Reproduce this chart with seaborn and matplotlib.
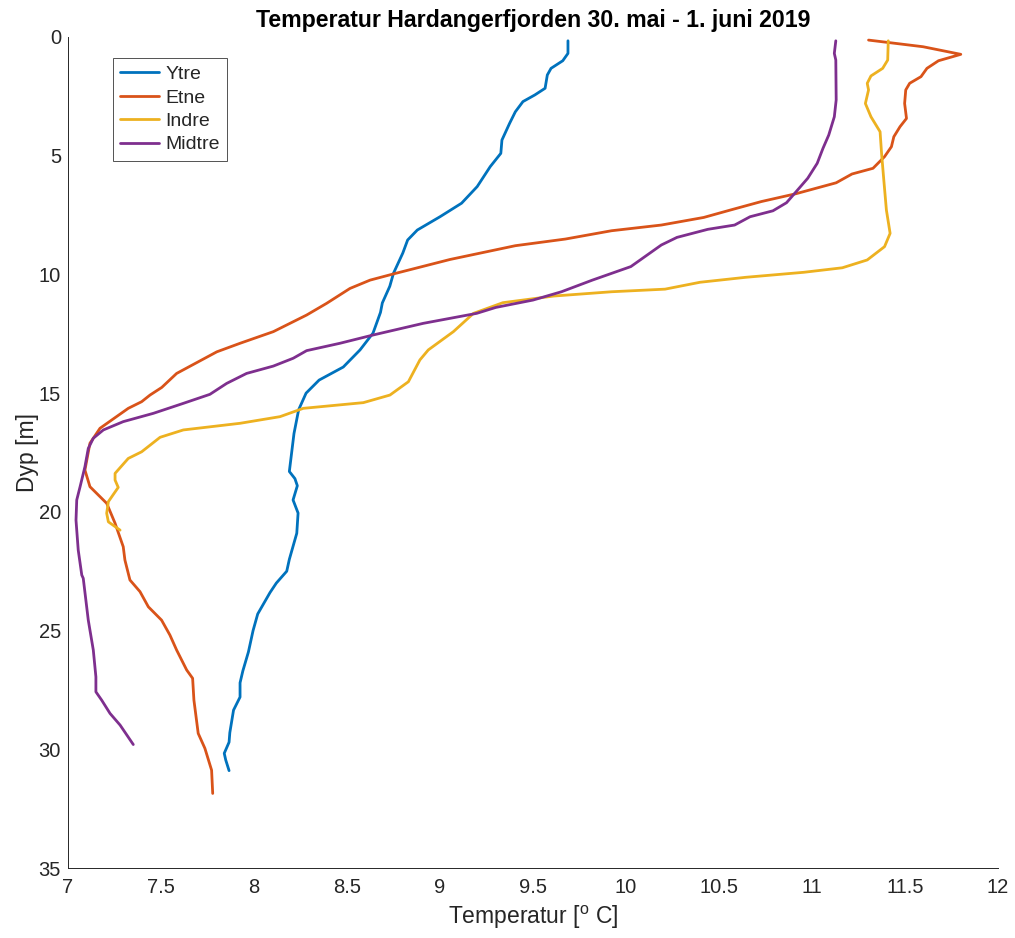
import matplotlib
matplotlib.use("Agg")
import matplotlib.pyplot as plt
import seaborn as sns
import pandas as pd

# ---- data ----
ytre_depth = [0.16, 0.69, 1.0, 1.32, 1.6, 2.16, 2.44, 2.72, 3.15, 3.64, 4.34, 4.9, 5.46, 6.3, 7.0,
              7.57, 8.13, 8.55, 9.1, 9.95, 10.5, 11.2, 11.6, 12.47, 13.18, 13.9, 14.45, 15.0, 15.7,
              16.7, 18.3, 18.6, 18.9, 19.5, 20.05, 20.9, 22.0, 22.5, 23.0, 23.4, 24.3, 25.0, 25.9,
              26.7, 27.2, 27.8, 28.35, 29.3, 29.7, 30.17, 30.45, 30.9]
ytre_temp = [9.688, 9.688, 9.66, 9.597, 9.577, 9.565, 9.51, 9.446, 9.405, 9.374, 9.333, 9.327, 9.27,
             9.2, 9.116, 9.0, 8.878, 8.826, 8.80, 8.75, 8.73, 8.69, 8.68, 8.64, 8.57, 8.48, 8.35,
             8.28, 8.24, 8.215, 8.19, 8.22, 8.233, 8.21, 8.237, 8.23, 8.19, 8.176, 8.12, 8.086,
             8.02, 7.995, 7.97, 7.94, 7.925, 7.925, 7.89, 7.87, 7.866, 7.84, 7.848, 7.866]

etne_depth = [0.13, 0.41, 0.73, 1.0, 1.32, 1.67, 1.95, 2.23, 2.8, 3.43, 3.78, 4.2, 4.62, 5.04, 5.53,
              5.77, 6.14, 6.6, 6.93, 7.29, 7.6, 7.92, 8.16, 8.51, 8.79, 9.37, 9.98, 10.24, 10.59,
              11.22, 11.71, 12.41, 12.9, 13.26, 14.17, 14.76, 15.08, 15.36, 15.64, 16.48, 17.11,
              18.24, 18.94, 19.64, 20.48, 21.47, 22.03, 22.87, 23.36, 24.0, 24.56, 25.19, 25.82,
              26.66, 27.01, 27.93, 29.33, 29.96, 30.88, 31.86]
etne_temp = [11.304, 11.597, 11.80, 11.68, 11.618, 11.586, 11.525, 11.504, 11.498, 11.508, 11.473,
             11.44, 11.427, 11.39, 11.328, 11.215, 11.13, 10.914, 10.728, 10.56, 10.418, 10.19,
             9.922, 9.674, 9.405, 9.054, 8.749, 8.624, 8.516, 8.39, 8.283, 8.104, 7.925, 7.80,
             7.584, 7.504, 7.441, 7.396, 7.324, 7.172, 7.118, 7.091, 7.118, 7.208, 7.253, 7.297,
             7.306, 7.333, 7.387, 7.432, 7.503, 7.548, 7.584, 7.638, 7.67, 7.677, 7.70, 7.736,
             7.772, 7.778]

indre_depth = [0.16, 0.97, 1.32, 1.64, 1.95, 2.23, 2.8, 3.36, 3.99, 4.9, 6.02, 7.29, 8.27, 8.83,
               9.39, 9.72, 9.91, 10.12, 10.33, 10.62, 10.73, 10.91, 11.19, 11.64, 12.41, 13.18,
               13.6, 14.52, 15.08, 15.4, 15.64, 15.99, 16.27, 16.55, 16.86, 17.47, 17.75, 18.38,
               18.66, 18.97, 19.57, 20.06, 20.42, 20.77]
indre_temp = [11.41, 11.407, 11.38, 11.317, 11.297, 11.304, 11.287, 11.317, 11.366, 11.374, 11.386,
              11.40, 11.42, 11.39, 11.297, 11.163, 10.956, 10.645, 10.398, 10.21, 9.922, 9.612,
              9.338, 9.18, 9.072, 8.937, 8.892, 8.83, 8.731, 8.588, 8.265, 8.14, 7.925, 7.62,
              7.495, 7.396, 7.324, 7.253, 7.253, 7.27, 7.217, 7.208, 7.217, 7.28]

midtre_depth = [0.16, 0.69, 0.97, 2.65, 3.36, 4.13, 4.69, 5.32, 5.95, 6.52, 6.98, 7.32, 7.57, 7.92,
                8.1, 8.44, 8.76, 9.67, 10.24, 10.73, 11.08, 11.39, 11.64, 12.06, 12.55, 12.9, 13.21,
                13.53, 13.86, 14.17, 14.59, 15.05, 15.43, 15.85, 16.2, 16.55, 16.9, 17.33, 18.1,
                18.94, 19.5, 20.35, 21.61, 22.66, 22.8, 24.56, 25.82, 26.95, 27.58, 27.93, 28.49,
                28.98, 29.8]
midtre_temp = [11.128, 11.12, 11.128, 11.13, 11.12, 11.09, 11.059, 11.028, 10.977, 10.914, 10.863,
               10.79, 10.667, 10.584, 10.44, 10.274, 10.19, 10.026, 9.819, 9.653, 9.5, 9.3, 9.197,
               8.91, 8.641, 8.462, 8.283, 8.211, 8.104, 7.96, 7.853, 7.763, 7.62, 7.459, 7.297,
               7.19, 7.136, 7.109, 7.091, 7.065, 7.047, 7.043, 7.055, 7.074, 7.082, 7.109, 7.136,
               7.15, 7.15, 7.181, 7.226, 7.28, 7.351]

stations = ["Ytre", "Etne", "Indre", "Midtre"]
colors = ["#0072BD", "#D95319", "#EDB120", "#7E2F8E"]
x_ticks = [7, 7.5, 8, 8.5, 9, 9.5, 10, 10.5, 11, 11.5, 12]
x_ticklabels = ["7", "7.5", "8", "8.5", "9", "9.5", "10", "10.5", "11", "11.5", "12"]
y_ticks = [0, 5, 10, 15, 20, 25, 30, 35]

frames = []
for name, d, t in [("Ytre", ytre_depth, ytre_temp), ("Etne", etne_depth, etne_temp),
                   ("Indre", indre_depth, indre_temp), ("Midtre", midtre_depth, midtre_temp)]:
    frames.append(pd.DataFrame({"Depth": d, "Temp": t, "Station": name}))
df = pd.concat(frames, ignore_index=True)

sns.set_style("white")
plt.rcParams["font.family"] = ["Liberation Sans", "DejaVu Sans"]
plt.rcParams["mathtext.fontset"] = "custom"
plt.rcParams["mathtext.rm"] = "Liberation Sans"

fig = plt.figure(figsize=(10.15, 9.38), dpi=100)
ax = fig.add_axes([68 / 1015, 1 - 868 / 938, 930 / 1015, 831 / 938])

sns.lineplot(data=df, x="Temp", y="Depth", hue="Station", hue_order=stations,
             palette=dict(zip(stations, colors)), sort=False, estimator=None,
             orient="y", linewidth=2.0, ax=ax)

axc = "#262626"
ax.set_xlim(7, 12)
ax.set_ylim(35, 0)
ax.set_xticks(x_ticks)
ax.set_xticklabels(x_ticklabels)
ax.set_yticks(y_ticks)
ax.tick_params(direction="in", length=9, width=0.7, colors=axc, labelsize=14.5,
               labelcolor=axc, pad=5)
ax.tick_params(axis="x", pad=7)
for s in ["top", "right"]:
    ax.spines[s].set_visible(False)
for s in ["left", "bottom"]:
    ax.spines[s].set_color(axc)
    ax.spines[s].set_linewidth(0.7)

ax.set_xlabel(r"Temperatur [$^{\mathrm{o}}$ C]", fontsize=16.5, color=axc, labelpad=5)
ax.set_ylabel("Dyp [m]", fontsize=16.5, color=axc, labelpad=0)
ax.set_title("Temperatur Hardangerfjorden 30. mai - 1. juni 2019", fontsize=16.7,
             fontweight="bold", color="black", pad=7)

leg = ax.legend(loc="upper left", bbox_to_anchor=(0.048, 0.975), fontsize=14,
                frameon=True, fancybox=False, handlelength=2.0, handletextpad=0.3,
                labelspacing=0.3, borderpad=0.4, borderaxespad=0)
leg.get_frame().set_edgecolor(axc)
leg.get_frame().set_linewidth(0.7)
for line in leg.get_lines():
    line.set_linewidth(2.0)

fig.savefig("out.png", dpi=100, facecolor="white")
